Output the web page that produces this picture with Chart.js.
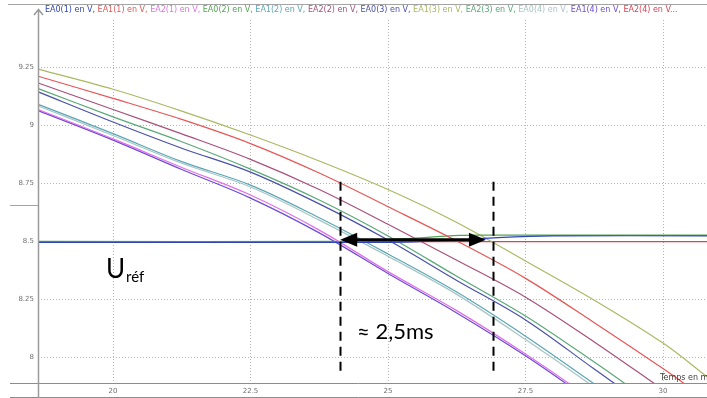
<!DOCTYPE html>
<html>
<head>
<meta charset="utf-8">
<script src="https://cdn.jsdelivr.net/npm/chart.js@4.4.1/dist/chart.umd.min.js"></script>
<style>
  html, body { margin: 0; padding: 0; background: #ffffff; }
  #wrap { width: 707px; height: 398px; position: relative; }
</style>
</head>
<body>
<div id="wrap"><canvas id="c" width="707" height="398"></canvas></div>
<script>
// Sample times (ms) for the falling voltages
const timeMs = [18.64, 20, 21.25, 22.5, 23.75, 25, 26.25, 27.5, 28.75, 30, 30.8];

// Falling voltages (V)
const ea1_3 = [9.241, 9.154, 9.060, 8.957, 8.845, 8.722, 8.580, 8.414, 8.245, 8.060, 7.915];
const ea1_1 = [9.210, 9.115, 9.024, 8.920, 8.793, 8.648, 8.500, 8.339, 8.148, 7.950, 7.815];
const ea2_2 = [9.181, 9.067, 8.962, 8.852, 8.722, 8.572, 8.417, 8.258, 8.065, 7.860, 7.730];
const ea2_3 = [9.157, 9.035, 8.928, 8.810, 8.677, 8.522, 8.348, 8.177, 7.978, 7.770, 7.640];
const ea0_3 = [9.143, 9.013, 8.900, 8.797, 8.660, 8.504, 8.330, 8.160, 7.948, 7.737, 7.600];
const ea1_2 = [9.089, 8.963, 8.842, 8.741, 8.600, 8.444, 8.280, 8.090, 7.884, 7.670, 7.530];
const ea0_4 = [9.082, 8.955, 8.835, 8.733, 8.590, 8.434, 8.270, 8.075, 7.870, 7.655, 7.515];
const ea2_1 = [9.067, 8.940, 8.817, 8.698, 8.547, 8.368, 8.200, 8.013, 7.810, 7.600, 7.470];
const ea1_4 = [9.062, 8.935, 8.808, 8.685, 8.535, 8.360, 8.190, 8.005, 7.800, 7.590, 7.460];

// Sample times (ms) for the near-constant voltages
const flatTimeMs = [18.64, 24.3, 25.3, 26.3, 27, 28, 30.8];
const ea0_2 = [8.499, 8.499, 8.510, 8.524, 8.525, 8.525, 8.525];
const ea0_1 = [8.494, 8.494, 8.495, 8.505, 8.515, 8.522, 8.522];
const ea2_4 = [8.497, 8.497, 8.497, 8.497, 8.497, 8.497, 8.497];

// Axes
const xTicks = [20, 22.5, 25, 27.5, 30];
const xTickLabels = ['20', '22.5', '25', '27.5', '30'];
const yTicks = [8, 8.25, 8.5, 8.75, 9, 9.25];
const yTickLabels = ['8', '8.25', '8.5', '8.75', '9', '9.25'];

// Measurement markers
const markerTimesMs = [24.13, 26.91];
const arrowTimesMs = [24.13, 26.78];
const arrowLevelV = 8.505;
const markerSpanV = [8.755, 7.93];

const toPoints = (xs, ys) => xs.map((x, i) => ({ x: x, y: ys[i] }));

const series = [
  { label: 'EA0(1) en V', color: '#2f46b8', t: flatTimeMs, v: ea0_1 },
  { label: 'EA1(1) en V', color: '#e65656', t: timeMs, v: ea1_1 },
  { label: 'EA2(1) en V', color: '#e070e8', t: timeMs, v: ea2_1 },
  { label: 'EA0(2) en V', color: '#52a452', t: flatTimeMs, v: ea0_2 },
  { label: 'EA1(2) en V', color: '#5aa6b4', t: timeMs, v: ea1_2 },
  { label: 'EA2(2) en V', color: '#a8507a', t: timeMs, v: ea2_2 },
  { label: 'EA0(3) en V', color: '#4850a8', t: timeMs, v: ea0_3 },
  { label: 'EA1(3) en V', color: '#aab862', t: timeMs, v: ea1_3 },
  { label: 'EA2(3) en V', color: '#5aa878', t: timeMs, v: ea2_3 },
  { label: 'EA0(4) en V', color: '#a8c4c4', t: timeMs, v: ea0_4 },
  { label: 'EA1(4) en V', color: '#6a4ad8', t: timeMs, v: ea1_4 },
  { label: 'EA2(4) en V', color: '#e04050', t: flatTimeMs, v: ea2_4 }
];

const datasets = series.map(s => ({
  label: s.label,
  data: toPoints(s.t, s.v),
  borderColor: s.color,
  backgroundColor: s.color,
  borderWidth: 1.2,
  pointRadius: 0,
  fill: false,
  tension: 0.35
}));

// Frame, legend line, axis arrow and annotations
const decorations = {
  id: 'decorations',
  afterDraw(chart) {
    const ctx = chart.ctx;
    const xs = chart.scales.x, ys = chart.scales.y;
    const W = chart.width;
    ctx.save();

    // window frame lines
    ctx.strokeStyle = '#a4a4a4';
    ctx.lineWidth = 1;
    ctx.beginPath();
    ctx.moveTo(8, 4.5); ctx.lineTo(W, 4.5);
    ctx.moveTo(10, 205.5); ctx.lineTo(38, 205.5);
    ctx.stroke();
    ctx.strokeStyle = '#8c8c8c';
    ctx.beginPath();
    ctx.moveTo(10, 383.5); ctx.lineTo(W, 383.5);
    ctx.moveTo(10, 397.5); ctx.lineTo(W, 397.5);
    ctx.stroke();

    // vertical axis with arrow
    ctx.strokeStyle = '#9a9a9a';
    ctx.lineWidth = 1.5;
    ctx.beginPath();
    ctx.moveTo(38.5, 9); ctx.lineTo(38.5, 398);
    ctx.moveTo(34, 15); ctx.lineTo(38.5, 9.5); ctx.lineTo(43, 15);
    ctx.stroke();

    // series legend on one line
    ctx.font = '8px "DejaVu Sans"';
    ctx.textBaseline = 'middle';
    ctx.textAlign = 'left';
    let lx = 45;
    chart.data.datasets.forEach((d, i) => {
      const last = i === chart.data.datasets.length - 1;
      const txt = d.label + (last ? '...' : ',');
      ctx.fillStyle = d.borderColor;
      ctx.fillText(txt, lx, 10);
      lx += ctx.measureText(txt + ' ').width;
    });

    // x axis title
    ctx.fillStyle = '#404040';
    ctx.font = '8px "DejaVu Sans"';
    ctx.textBaseline = 'alphabetic';
    ctx.fillText('Temps en ms', 660, 380);

    // dashed time markers
    ctx.strokeStyle = '#000000';
    ctx.lineWidth = 2;
    ctx.setLineDash([9, 6]);
    markerTimesMs.forEach(t => {
      const px = Math.round(xs.getPixelForValue(t)) + 0.5;
      ctx.beginPath();
      ctx.moveTo(px, ys.getPixelForValue(markerSpanV[0]));
      ctx.lineTo(px, ys.getPixelForValue(markerSpanV[1]));
      ctx.stroke();
    });
    ctx.setLineDash([]);

    // double arrow between the markers
    const ax0 = xs.getPixelForValue(arrowTimesMs[0]);
    const ax1 = xs.getPixelForValue(arrowTimesMs[1]);
    const ay = ys.getPixelForValue(arrowLevelV);
    const headL = 17, headH = 7;
    ctx.lineWidth = 3;
    ctx.beginPath();
    ctx.moveTo(ax0 + headL - 2, ay); ctx.lineTo(ax1 - headL + 2, ay);
    ctx.stroke();
    ctx.fillStyle = '#000000';
    ctx.beginPath();
    ctx.moveTo(ax0, ay); ctx.lineTo(ax0 + headL, ay - headH); ctx.lineTo(ax0 + headL, ay + headH); ctx.closePath();
    ctx.fill();
    ctx.beginPath();
    ctx.moveTo(ax1, ay); ctx.lineTo(ax1 - headL, ay - headH); ctx.lineTo(ax1 - headL, ay + headH); ctx.closePath();
    ctx.fill();

    // text labels
    ctx.fillStyle = '#000000';
    ctx.textBaseline = 'alphabetic';
    ctx.font = '26px Lato';
    ctx.fillText('U', 106, 278);
    const uw = ctx.measureText('U').width;
    ctx.font = '15px Lato';
    ctx.fillText('réf', 106 + uw + 1, 282);
    ctx.font = '22px Lato';
    ctx.fillText('\u2248 2,5ms', 357, 339);

    ctx.restore();
  }
};

new Chart(document.getElementById('c'), {
  type: 'line',
  data: { datasets: datasets },
  options: {
    responsive: false,
    animation: false,
    devicePixelRatio: 1,
    layout: { padding: { top: 20, left: 0, right: 0, bottom: 0 } },
    plugins: { legend: { display: false }, tooltip: { enabled: false } },
    scales: {
      x: {
        type: 'linear',
        min: 18.636,
        max: 30.8,
        afterFit: s => { s.height = 15; },
        afterBuildTicks: s => { s.ticks = xTicks.map(v => ({ value: v })); },
        ticks: {
          callback: v => { const i = xTicks.indexOf(v); return i >= 0 ? xTickLabels[i] : ''; },
          font: { family: 'DejaVu Sans', size: 7 },
          color: '#707070',
          padding: 4,
          maxRotation: 0,
          autoSkip: false
        },
        grid: { color: '#b4b4b4', drawTicks: false, lineWidth: 1 },
        border: { display: false, dash: [1, 2] }
      },
      y: {
        type: 'linear',
        min: 7.888,
        max: 9.4526,
        afterFit: s => { s.width = 38; },
        afterBuildTicks: s => { s.ticks = yTicks.map(v => ({ value: v })); },
        ticks: {
          callback: v => { const i = yTicks.indexOf(v); return i >= 0 ? yTickLabels[i] : ''; },
          font: { family: 'DejaVu Sans', size: 7 },
          color: '#707070',
          padding: 4,
          autoSkip: false
        },
        grid: { color: '#b4b4b4', drawTicks: false, lineWidth: 1 },
        border: { display: false, dash: [1, 2] }
      }
    }
  },
  plugins: [decorations]
});
</script>
</body>
</html>
